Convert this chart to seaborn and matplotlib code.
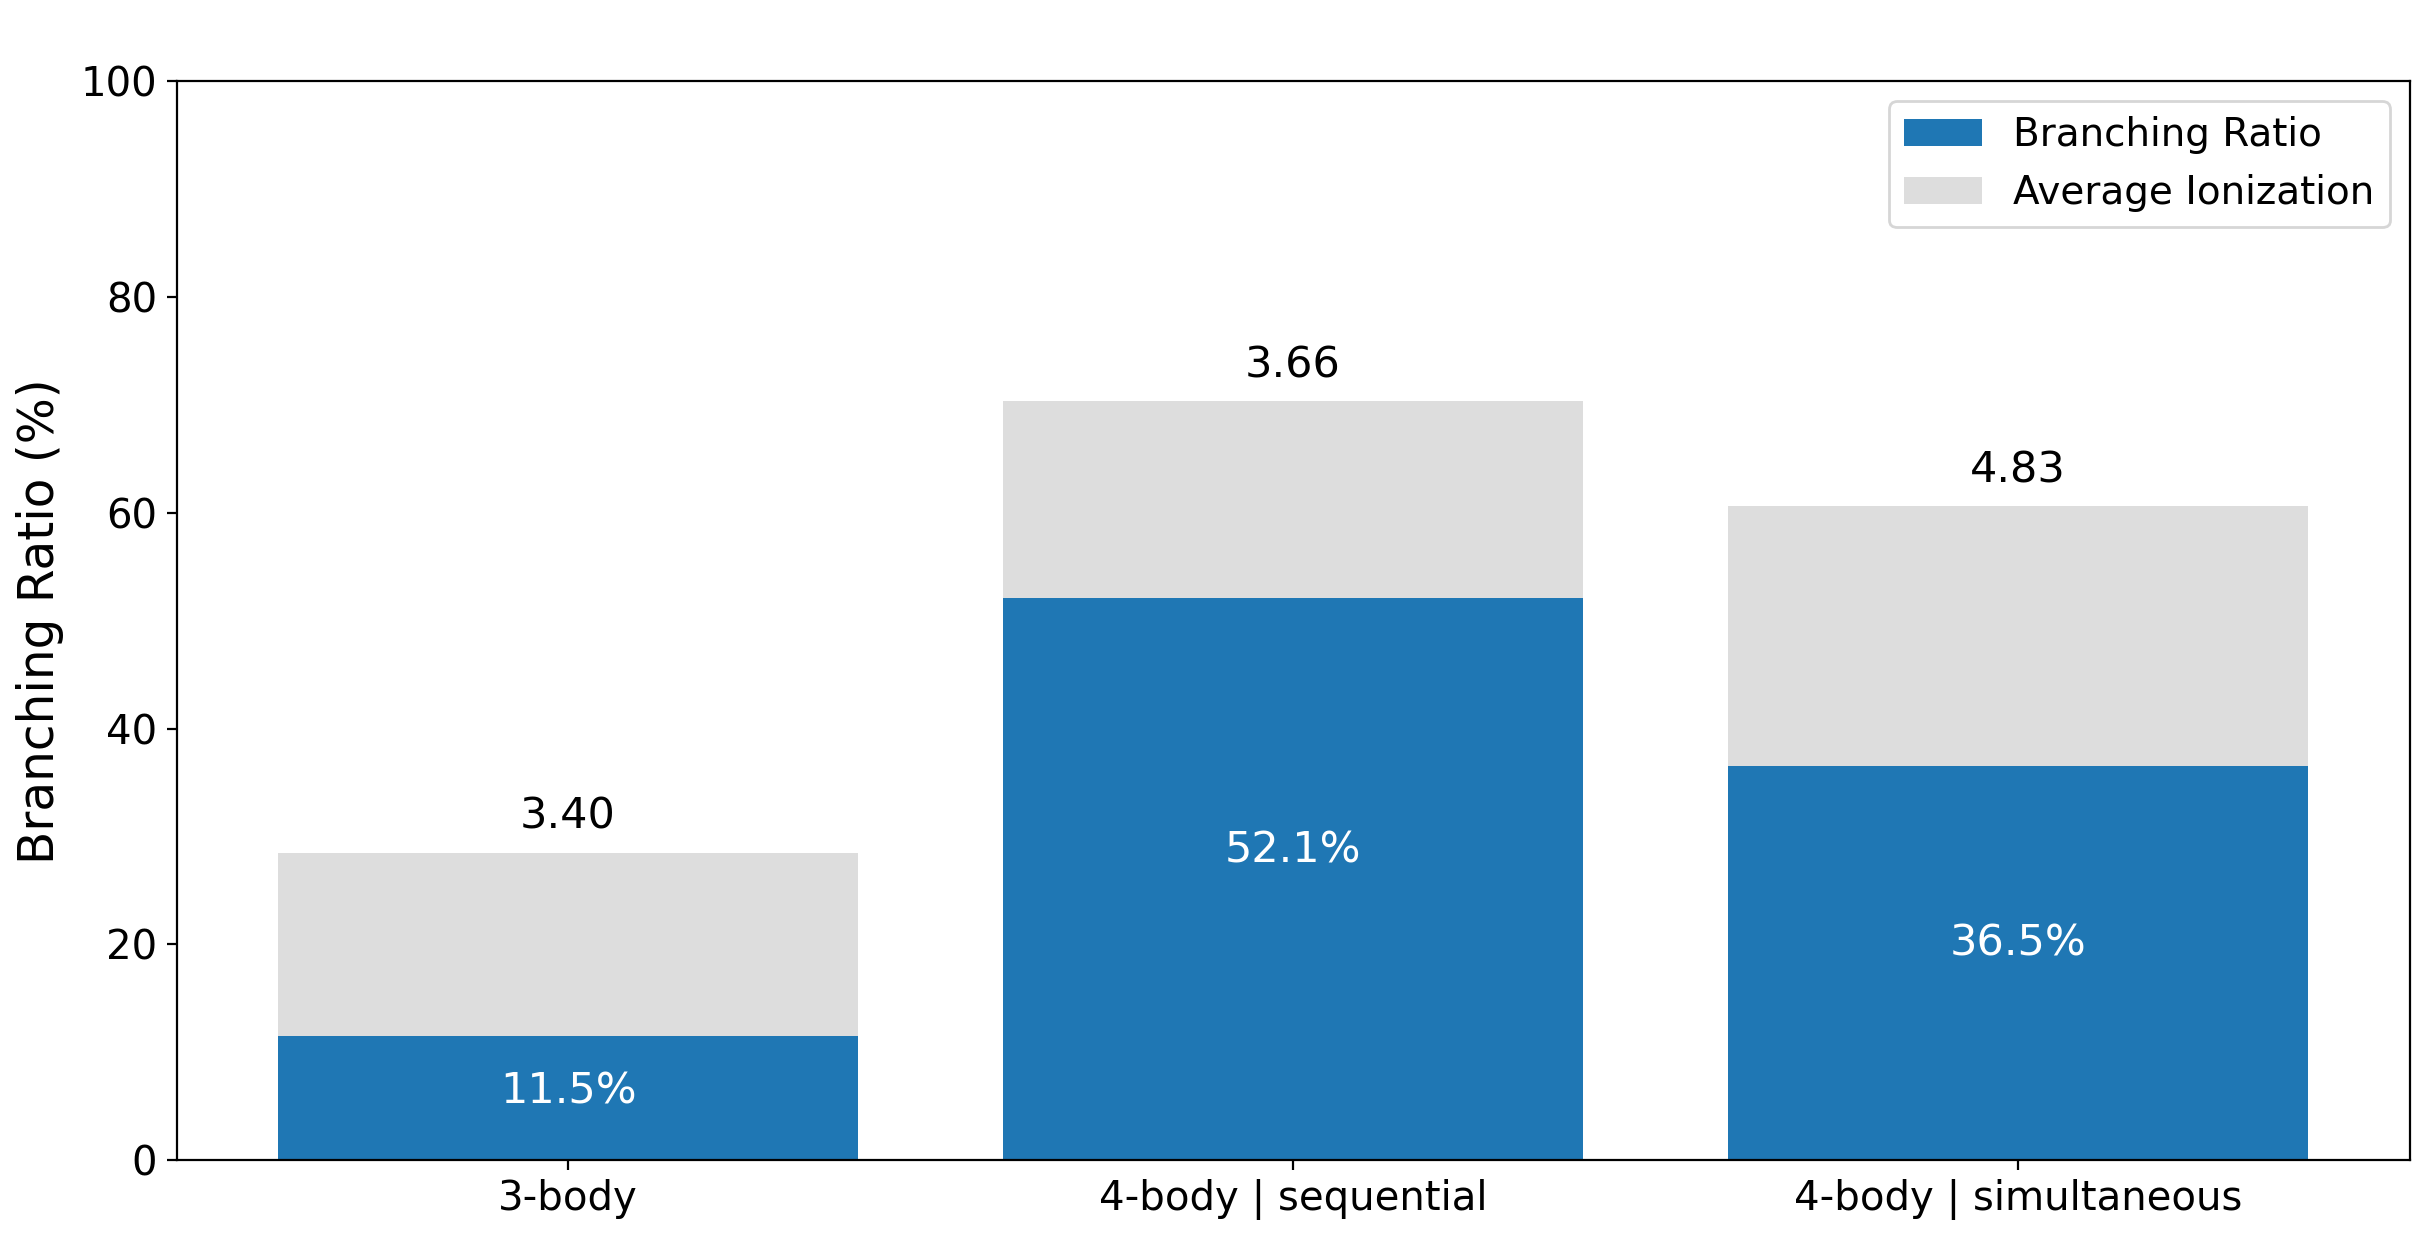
import matplotlib
matplotlib.use('Agg')
import matplotlib.pyplot as plt
import numpy as np
import seaborn as sns

# channels and values
channels = ['3-body', '4-body | sequential', '4-body | simultaneous']
branching_ratio = [11.5, 52.1, 36.5]      # %
avg_ionization = [3.40, 3.66, 4.83]
ion_scale = 5                             # grey segment height = avg ionization x 5

plt.rcParams['font.size'] = 14.5

ion_height = np.array(avg_ionization) * ion_scale
totals = np.array(branching_ratio) + ion_height

fig, ax = plt.subplots(figsize=(2429 / 200, 1234 / 200), dpi=200)
fig.subplots_adjust(left=0.0727, right=0.992, top=0.934, bottom=0.06)

# grey (stack top) first, blue on top of it
sns.barplot(x=channels, y=totals, color='#dddddd', saturation=1, width=0.8,
            label='Average Ionization', ax=ax)
sns.barplot(x=channels, y=branching_ratio, color='#1f77b4', saturation=1, width=0.8,
            label='Branching Ratio', ax=ax)

for i, (br, ion, tot) in enumerate(zip(branching_ratio, avg_ionization, totals)):
    ax.text(i, br * 0.55, f'{br:.1f}%', ha='center', va='center', color='white', fontsize=15.5)
    ax.text(i, tot + 3.3, f'{ion:.2f}', ha='center', va='center', color='black', fontsize=15.5)

ax.set_ylim(0, 100)
ax.set_xlim(-0.54, 2.54)
ax.set_ylabel('Branching Ratio (%)', fontsize=17.5, labelpad=6)
ax.set_xlabel('')

handles, labels = ax.get_legend_handles_labels()
ax.legend(handles[::-1], labels[::-1], loc='upper right', fontsize=14)

plt.savefig('out.png', dpi=200)
